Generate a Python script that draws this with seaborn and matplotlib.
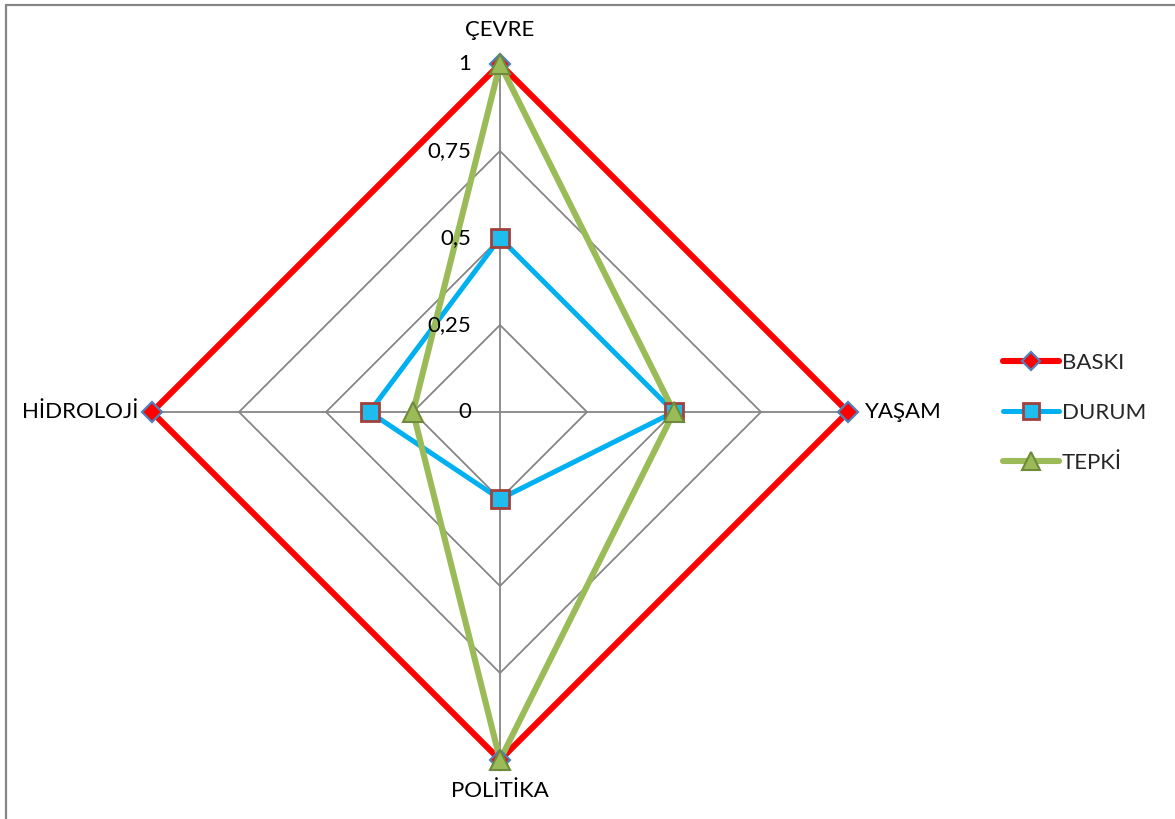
import numpy as np
import matplotlib
matplotlib.use("Agg")
import matplotlib.pyplot as plt
from matplotlib.lines import Line2D
import seaborn as sns

categories = ["ÇEVRE", "YAŞAM", "POLİTİKA", "HİDROLOJİ"]
baski = [1.0, 1.0, 1.0, 1.0]
durum = [0.5, 0.5, 0.25, 0.375]
tepki = [1.0, 0.5, 1.0, 0.25]
ticks = [0, 0.25, 0.5, 0.75, 1]
tick_labels = ["0", "0,25", "0,5", "0,75", "1"]
series_names = ["BASKI", "DURUM", "TEPKİ"]

sns.set_style("white")
plt.rcParams['font.family'] = ['Lato', 'DejaVu Sans']

W, H = 1175, 819
fig = plt.figure(figsize=(W / 100, H / 100), dpi=100)
cx, cy, R = 500, 412, 348
ax = fig.add_axes([(cx - R) / W, (H - cy - R) / H, 2 * R / W, 2 * R / H],
                  projection="polar")
ax.set_theta_offset(np.pi / 2)
ax.set_theta_direction(-1)
ax.set_ylim(0, 1)
ax.grid(False)
ax.spines["polar"].set_visible(False)
ax.set_xticks([])
ax.set_yticks([])
ax.patch.set_alpha(0)

n = len(categories)
theta = np.arange(n) * 2 * np.pi / n
theta_c = np.append(theta, theta[0])

# polygon grid
for t in ticks[1:]:
    ax.plot(theta_c, [t] * (n + 1), color="#868686", lw=1.3, zorder=1)
for th in theta:
    ax.plot([th, th], [0, 1], color="#868686", lw=1.3, zorder=1)

styles = {
    "BASKI": dict(color="#FF0000", lw=4.4, marker="D", ms=10, mfc="#FF0000",
                  mec="#4F81BD", mew=1.6),
    "DURUM": dict(color="#00B0F0", lw=3.6, marker="s", ms=13, mfc="#1FBDEF",
                  mec="#A0413C", mew=2.0),
    "TEPKİ": dict(color="#9BBB59", lw=4.4, marker="^", ms=15, mfc="#9BBB59",
                  mec="#6E8A3A", mew=1.5),
}
data = {"BASKI": baski, "DURUM": durum, "TEPKİ": tepki}
for z, name in enumerate(series_names):
    vals = np.append(data[name], data[name][0])
    st = styles[name]
    sns.lineplot(x=theta_c, y=vals, sort=False, ax=ax, color=st["color"],
                 lw=st["lw"], zorder=3 + z, estimator=None)
    ax.lines[-1].set_clip_on(False)
    ax.plot(theta, data[name], ls="none", marker=st["marker"], ms=st["ms"],
            mfc=st["mfc"], mec=st["mec"], mew=st["mew"], zorder=6 + z,
            clip_on=False)

# radial tick labels
for t, lab in zip(ticks, tick_labels):
    ax.annotate(lab, xy=(0, t), xytext=(-21, 0), textcoords="offset points",
                ha="right", va="center", fontsize=16, color="black", zorder=10)

# category labels
lab_pos = [(0, 1, 0, 17, "center", "bottom"),
           (theta[1], 1, 12, 0, "left", "center"),
           (theta[2], 1, 0, -15, "center", "top"),
           (theta[3], 1, -10, 0, "right", "center")]
for cat, (th, r, dx, dy, ha, va) in zip(categories, lab_pos):
    ax.annotate(cat, xy=(th, r), xytext=(dx, dy), textcoords="offset points",
                ha=ha, va=va, fontsize=16, color="black")

handles = []
for name in series_names:
    st = styles[name]
    handles.append(Line2D([], [], color=st["color"], lw=st["lw"],
                          solid_capstyle="round", marker=st["marker"],
                          ms=st["ms"] * 0.9, mfc=st["mfc"], mec=st["mec"],
                          mew=st["mew"]))
fig.legend(handles, series_names, loc="center left",
           bbox_to_anchor=(1003 / W, (H - 413) / H), frameon=False,
           fontsize=16, handlelength=2.5, handletextpad=0.15,
           labelspacing=1.35, borderaxespad=0, borderpad=0)

# chart area border
fig.add_artist(Line2D([6 / W, 6 / W], [0, 1 - 5 / H], transform=fig.transFigure,
                      color="#868686", lw=1.6))
fig.add_artist(Line2D([6 / W, 1], [1 - 5 / H, 1 - 5 / H],
                      transform=fig.transFigure, color="#868686", lw=1.6))

fig.savefig("out.png", dpi=100)
